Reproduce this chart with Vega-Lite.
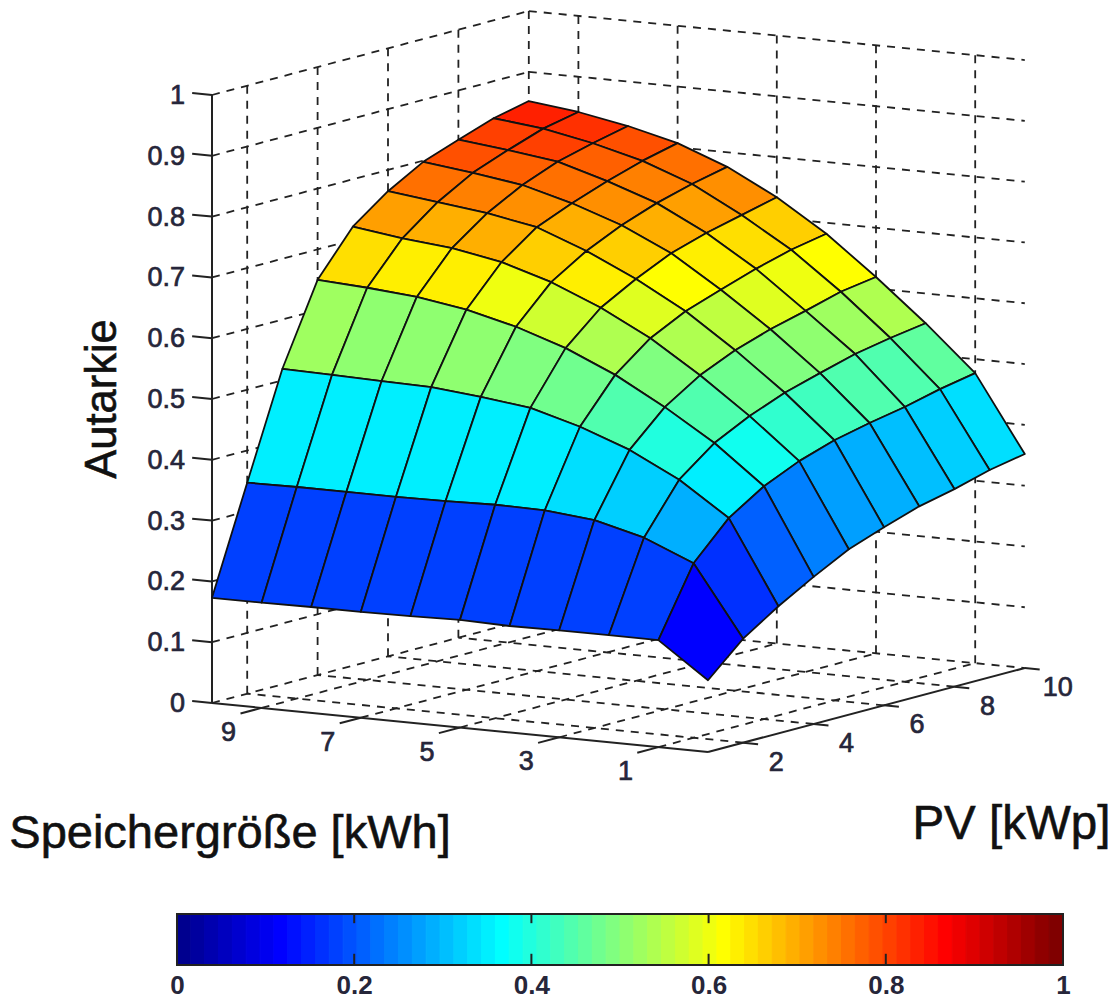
{"$schema":"https://vega.github.io/schema/vega-lite/v6.json","padding":0,"spacing":19,"bounds":"flush","background":"white","config":{"view":{"stroke":null}},
"datasets":{
"cells":[
{"s":9,"p":9,"z":[0.83,0.839,0.852,0.842]},{"s":8,"p":9,"z":[0.814,0.83,0.842,0.827]},{"s":7,"p":9,"z":[0.793,0.814,0.827,0.807]},{"s":6,"p":9,"z":[0.763,0.793,0.807,0.776]},{"s":5,"p":9,"z":[0.720,0.763,0.776,0.734]},{"s":4,"p":9,"z":[0.671,0.720,0.734,0.682]},{"s":3,"p":9,"z":[0.610,0.671,0.682,0.619]},{"s":2,"p":9,"z":[0.542,0.610,0.619,0.551]},{"s":1,"p":9,"z":[0.466,0.542,0.551,0.477]},{"s":0,"p":9,"z":[0.341,0.466,0.477,0.352]},
{"s":9,"p":8,"z":[0.810,0.819,0.839,0.83]},{"s":8,"p":8,"z":[0.799,0.810,0.83,0.814]},{"s":7,"p":8,"z":[0.775,0.799,0.814,0.793]},{"s":6,"p":8,"z":[0.747,0.775,0.793,0.763]},{"s":5,"p":8,"z":[0.706,0.747,0.763,0.720]},{"s":4,"p":8,"z":[0.655,0.706,0.720,0.671]},{"s":3,"p":8,"z":[0.594,0.655,0.671,0.610]},{"s":2,"p":8,"z":[0.531,0.594,0.610,0.542]},{"s":1,"p":8,"z":[0.452,0.531,0.542,0.466]},{"s":0,"p":8,"z":[0.325,0.452,0.466,0.341]},
{"s":9,"p":7,"z":[0.788,0.798,0.819,0.810]},{"s":8,"p":7,"z":[0.776,0.788,0.810,0.799]},{"s":7,"p":7,"z":[0.754,0.776,0.799,0.775]},{"s":6,"p":7,"z":[0.726,0.754,0.775,0.747]},{"s":5,"p":7,"z":[0.688,0.726,0.747,0.706]},{"s":4,"p":7,"z":[0.636,0.688,0.706,0.655]},{"s":3,"p":7,"z":[0.579,0.636,0.655,0.594]},{"s":2,"p":7,"z":[0.515,0.579,0.594,0.531]},{"s":1,"p":7,"z":[0.441,0.515,0.531,0.452]},{"s":0,"p":7,"z":[0.312,0.441,0.452,0.325]},
{"s":9,"p":6,"z":[0.755,0.765,0.798,0.788]},{"s":8,"p":6,"z":[0.745,0.755,0.788,0.776]},{"s":7,"p":6,"z":[0.730,0.745,0.776,0.754]},{"s":6,"p":6,"z":[0.699,0.730,0.754,0.726]},{"s":5,"p":6,"z":[0.661,0.699,0.726,0.688]},{"s":4,"p":6,"z":[0.616,0.661,0.688,0.636]},{"s":3,"p":6,"z":[0.560,0.616,0.636,0.579]},{"s":2,"p":6,"z":[0.498,0.560,0.579,0.515]},{"s":1,"p":6,"z":[0.428,0.498,0.515,0.441]},{"s":0,"p":6,"z":[0.293,0.428,0.441,0.312]},
{"s":9,"p":5,"z":[0.711,0.722,0.765,0.755]},{"s":8,"p":5,"z":[0.703,0.711,0.755,0.745]},{"s":7,"p":5,"z":[0.688,0.703,0.745,0.730]},{"s":6,"p":5,"z":[0.663,0.688,0.730,0.699]},{"s":5,"p":5,"z":[0.629,0.663,0.699,0.661]},{"s":4,"p":5,"z":[0.587,0.629,0.661,0.616]},{"s":3,"p":5,"z":[0.534,0.587,0.616,0.560]},{"s":2,"p":5,"z":[0.475,0.534,0.560,0.498]},{"s":1,"p":5,"z":[0.409,0.475,0.498,0.428]},{"s":0,"p":5,"z":[0.272,0.409,0.428,0.293]},
{"s":9,"p":4,"z":[0.645,0.650,0.722,0.711]},{"s":8,"p":4,"z":[0.638,0.645,0.711,0.703]},{"s":7,"p":4,"z":[0.625,0.638,0.703,0.688]},{"s":6,"p":4,"z":[0.605,0.625,0.688,0.663]},{"s":5,"p":4,"z":[0.578,0.605,0.663,0.629]},{"s":4,"p":4,"z":[0.542,0.578,0.629,0.587]},{"s":3,"p":4,"z":[0.497,0.542,0.587,0.534]},{"s":2,"p":4,"z":[0.446,0.497,0.534,0.475]},{"s":1,"p":4,"z":[0.383,0.446,0.475,0.409]},{"s":0,"p":4,"z":[0.242,0.383,0.409,0.272]},
{"s":9,"p":3,"z":[0.517,0.519,0.650,0.645]},{"s":8,"p":3,"z":[0.515,0.517,0.645,0.638]},{"s":7,"p":3,"z":[0.513,0.515,0.638,0.625]},{"s":6,"p":3,"z":[0.505,0.513,0.625,0.605]},{"s":5,"p":3,"z":[0.495,0.505,0.605,0.578]},{"s":4,"p":3,"z":[0.472,0.495,0.578,0.542]},{"s":3,"p":3,"z":[0.442,0.472,0.542,0.497]},{"s":2,"p":3,"z":[0.401,0.442,0.497,0.446]},{"s":1,"p":3,"z":[0.346,0.401,0.446,0.383]},{"s":0,"p":3,"z":[0.209,0.346,0.383,0.242]},
{"s":9,"p":2,"z":[0.348,0.347,0.519,0.517]},{"s":8,"p":2,"z":[0.348,0.348,0.517,0.515]},{"s":7,"p":2,"z":[0.348,0.348,0.515,0.513]},{"s":6,"p":2,"z":[0.349,0.348,0.513,0.505]},{"s":5,"p":2,"z":[0.351,0.349,0.505,0.495]},{"s":4,"p":2,"z":[0.350,0.351,0.495,0.472]},{"s":3,"p":2,"z":[0.342,0.350,0.472,0.442]},{"s":2,"p":2,"z":[0.321,0.342,0.442,0.401]},{"s":1,"p":2,"z":[0.287,0.321,0.401,0.346]},{"s":0,"p":2,"z":[0.171,0.287,0.346,0.209]},
{"s":9,"p":1,"z":[0.173,0.173,0.347,0.348]},{"s":8,"p":1,"z":[0.174,0.173,0.348,0.348]},{"s":7,"p":1,"z":[0.174,0.174,0.348,0.348]},{"s":6,"p":1,"z":[0.175,0.174,0.348,0.349]},{"s":5,"p":1,"z":[0.177,0.175,0.349,0.351]},{"s":4,"p":1,"z":[0.175,0.177,0.351,0.350]},{"s":3,"p":1,"z":[0.176,0.175,0.350,0.342]},{"s":2,"p":1,"z":[0.176,0.176,0.342,0.321]},{"s":1,"p":1,"z":[0.176,0.176,0.321,0.287]},{"s":0,"p":1,"z":[0.118,0.176,0.287,0.171]}
],
"grid":[
{"s":10,"p":1,"z":0,"s2":10,"p2":10,"z2":0},{"s":10,"p":1,"z":0.1,"s2":10,"p2":10,"z2":0.1},{"s":10,"p":1,"z":0.2,"s2":10,"p2":10,"z2":0.2},{"s":10,"p":1,"z":0.3,"s2":10,"p2":10,"z2":0.3},{"s":10,"p":1,"z":0.4,"s2":10,"p2":10,"z2":0.4},{"s":10,"p":1,"z":0.5,"s2":10,"p2":10,"z2":0.5},{"s":10,"p":1,"z":0.6,"s2":10,"p2":10,"z2":0.6},{"s":10,"p":1,"z":0.7,"s2":10,"p2":10,"z2":0.7},{"s":10,"p":1,"z":0.8,"s2":10,"p2":10,"z2":0.8},{"s":10,"p":1,"z":0.9,"s2":10,"p2":10,"z2":0.9},{"s":10,"p":1,"z":1,"s2":10,"p2":10,"z2":1},
{"s":10,"p":10,"z":0,"s2":0,"p2":10,"z2":0},{"s":10,"p":10,"z":0.1,"s2":0,"p2":10,"z2":0.1},{"s":10,"p":10,"z":0.2,"s2":0,"p2":10,"z2":0.2},{"s":10,"p":10,"z":0.3,"s2":0,"p2":10,"z2":0.3},{"s":10,"p":10,"z":0.4,"s2":0,"p2":10,"z2":0.4},{"s":10,"p":10,"z":0.5,"s2":0,"p2":10,"z2":0.5},{"s":10,"p":10,"z":0.6,"s2":0,"p2":10,"z2":0.6},{"s":10,"p":10,"z":0.7,"s2":0,"p2":10,"z2":0.7},{"s":10,"p":10,"z":0.8,"s2":0,"p2":10,"z2":0.8},{"s":10,"p":10,"z":0.9,"s2":0,"p2":10,"z2":0.9},{"s":10,"p":10,"z":1,"s2":0,"p2":10,"z2":1},
{"s":10,"p":2,"z":0,"s2":10,"p2":2,"z2":1},{"s":10,"p":4,"z":0,"s2":10,"p2":4,"z2":1},{"s":10,"p":6,"z":0,"s2":10,"p2":6,"z2":1},{"s":10,"p":8,"z":0,"s2":10,"p2":8,"z2":1},{"s":10,"p":10,"z":0,"s2":10,"p2":10,"z2":1},
{"s":9,"p":10,"z":0,"s2":9,"p2":10,"z2":1},{"s":7,"p":10,"z":0,"s2":7,"p2":10,"z2":1},{"s":5,"p":10,"z":0,"s2":5,"p2":10,"z2":1},{"s":3,"p":10,"z":0,"s2":3,"p2":10,"z2":1},{"s":1,"p":10,"z":0,"s2":1,"p2":10,"z2":1},
{"s":9,"p":1,"z":0,"s2":9,"p2":10,"z2":0},{"s":7,"p":1,"z":0,"s2":7,"p2":10,"z2":0},{"s":5,"p":1,"z":0,"s2":5,"p2":10,"z2":0},{"s":3,"p":1,"z":0,"s2":3,"p2":10,"z2":0},{"s":1,"p":1,"z":0,"s2":1,"p2":10,"z2":0},
{"s":0,"p":2,"z":0,"s2":10,"p2":2,"z2":0},{"s":0,"p":4,"z":0,"s2":10,"p2":4,"z2":0},{"s":0,"p":6,"z":0,"s2":10,"p2":6,"z2":0},{"s":0,"p":8,"z":0,"s2":10,"p2":8,"z2":0}
],
"frame":[
{"s":10,"p":1,"z":0,"s2":10,"p2":1,"z2":1},{"s":10,"p":1,"z":0,"s2":0,"p2":1,"z2":0},{"s":0,"p":1,"z":0,"s2":0,"p2":10,"z2":0},
{"s":10,"p":1,"z":0,"s2":10.4,"p2":1,"z2":0},{"s":10,"p":1,"z":0.1,"s2":10.4,"p2":1,"z2":0.1},{"s":10,"p":1,"z":0.2,"s2":10.4,"p2":1,"z2":0.2},{"s":10,"p":1,"z":0.3,"s2":10.4,"p2":1,"z2":0.3},{"s":10,"p":1,"z":0.4,"s2":10.4,"p2":1,"z2":0.4},{"s":10,"p":1,"z":0.5,"s2":10.4,"p2":1,"z2":0.5},{"s":10,"p":1,"z":0.6,"s2":10.4,"p2":1,"z2":0.6},{"s":10,"p":1,"z":0.7,"s2":10.4,"p2":1,"z2":0.7},{"s":10,"p":1,"z":0.8,"s2":10.4,"p2":1,"z2":0.8},{"s":10,"p":1,"z":0.9,"s2":10.4,"p2":1,"z2":0.9},{"s":10,"p":1,"z":1,"s2":10.4,"p2":1,"z2":1},
{"s":9,"p":1,"z":0,"s2":9,"p2":0.4,"z2":0},{"s":7,"p":1,"z":0,"s2":7,"p2":0.4,"z2":0},{"s":5,"p":1,"z":0,"s2":5,"p2":0.4,"z2":0},{"s":3,"p":1,"z":0,"s2":3,"p2":0.4,"z2":0},{"s":1,"p":1,"z":0,"s2":1,"p2":0.4,"z2":0},
{"s":0,"p":2,"z":0,"s2":-0.3,"p2":2,"z2":0},{"s":0,"p":4,"z":0,"s2":-0.3,"p2":4,"z2":0},{"s":0,"p":6,"z":0,"s2":-0.3,"p2":6,"z2":0},{"s":0,"p":8,"z":0,"s2":-0.3,"p2":8,"z2":0},{"s":0,"p":10,"z":0,"s2":-0.3,"p2":10,"z2":0}
],
"jetbar":[
{"lo":0,"hi":0.015625},{"lo":0.015625,"hi":0.03125},{"lo":0.03125,"hi":0.046875},{"lo":0.046875,"hi":0.0625},{"lo":0.0625,"hi":0.078125},{"lo":0.078125,"hi":0.09375},{"lo":0.09375,"hi":0.109375},{"lo":0.109375,"hi":0.125},
{"lo":0.125,"hi":0.140625},{"lo":0.140625,"hi":0.15625},{"lo":0.15625,"hi":0.171875},{"lo":0.171875,"hi":0.1875},{"lo":0.1875,"hi":0.203125},{"lo":0.203125,"hi":0.21875},{"lo":0.21875,"hi":0.234375},{"lo":0.234375,"hi":0.25},
{"lo":0.25,"hi":0.265625},{"lo":0.265625,"hi":0.28125},{"lo":0.28125,"hi":0.296875},{"lo":0.296875,"hi":0.3125},{"lo":0.3125,"hi":0.328125},{"lo":0.328125,"hi":0.34375},{"lo":0.34375,"hi":0.359375},{"lo":0.359375,"hi":0.375},
{"lo":0.375,"hi":0.390625},{"lo":0.390625,"hi":0.40625},{"lo":0.40625,"hi":0.421875},{"lo":0.421875,"hi":0.4375},{"lo":0.4375,"hi":0.453125},{"lo":0.453125,"hi":0.46875},{"lo":0.46875,"hi":0.484375},{"lo":0.484375,"hi":0.5},
{"lo":0.5,"hi":0.515625},{"lo":0.515625,"hi":0.53125},{"lo":0.53125,"hi":0.546875},{"lo":0.546875,"hi":0.5625},{"lo":0.5625,"hi":0.578125},{"lo":0.578125,"hi":0.59375},{"lo":0.59375,"hi":0.609375},{"lo":0.609375,"hi":0.625},
{"lo":0.625,"hi":0.640625},{"lo":0.640625,"hi":0.65625},{"lo":0.65625,"hi":0.671875},{"lo":0.671875,"hi":0.6875},{"lo":0.6875,"hi":0.703125},{"lo":0.703125,"hi":0.71875},{"lo":0.71875,"hi":0.734375},{"lo":0.734375,"hi":0.75},
{"lo":0.75,"hi":0.765625},{"lo":0.765625,"hi":0.78125},{"lo":0.78125,"hi":0.796875},{"lo":0.796875,"hi":0.8125},{"lo":0.8125,"hi":0.828125},{"lo":0.828125,"hi":0.84375},{"lo":0.84375,"hi":0.859375},{"lo":0.859375,"hi":0.875},
{"lo":0.875,"hi":0.890625},{"lo":0.890625,"hi":0.90625},{"lo":0.90625,"hi":0.921875},{"lo":0.921875,"hi":0.9375},{"lo":0.9375,"hi":0.953125},{"lo":0.953125,"hi":0.96875},{"lo":0.96875,"hi":0.984375},{"lo":0.984375,"hi":1}
]
},
"vconcat":[
{"width":1113,"height":895,
"layer":[
{"data":{"name":"grid"},
"transform":[{"calculate":"708-49.6*datum.s+35.2*(datum.p-1)","as":"X"},{"calculate":"752-4.9*datum.s-9.33*(datum.p-1)-608*datum.z","as":"Y"},{"calculate":"708-49.6*datum.s2+35.2*(datum.p2-1)","as":"X2"},{"calculate":"752-4.9*datum.s2-9.33*(datum.p2-1)-608*datum.z2","as":"Y2"}],
"mark":{"type":"rule","stroke":"#222222","strokeWidth":1.8,"strokeDash":[8,7]},
"encoding":{"x":{"field":"X","type":"quantitative","scale":{"domain":[0,1113],"nice":false,"zero":false},"axis":null},"y":{"field":"Y","type":"quantitative","scale":{"domain":[895,0],"nice":false,"zero":false},"axis":null},"x2":{"field":"X2"},"y2":{"field":"Y2"}}},
{"data":{"name":"frame"},
"transform":[{"calculate":"708-49.6*datum.s+35.2*(datum.p-1)","as":"X"},{"calculate":"752-4.9*datum.s-9.33*(datum.p-1)-608*datum.z","as":"Y"},{"calculate":"708-49.6*datum.s2+35.2*(datum.p2-1)","as":"X2"},{"calculate":"752-4.9*datum.s2-9.33*(datum.p2-1)-608*datum.z2","as":"Y2"}],
"mark":{"type":"rule","stroke":"#222222","strokeWidth":2},
"encoding":{"x":{"field":"X","type":"quantitative","scale":{"domain":[0,1113],"nice":false,"zero":false},"axis":null},"y":{"field":"Y","type":"quantitative","scale":{"domain":[895,0],"nice":false,"zero":false},"axis":null},"x2":{"field":"X2"},"y2":{"field":"Y2"}}},
{"data":{"name":"cells"},
"transform":[{"calculate":"datum.z[0]","as":"c"},{"calculate":"datum.s+'_'+datum.p","as":"cell"},{"calculate":"[0,1,1,0]","as":"ds"},{"calculate":"[0,0,1,1]","as":"dp"},{"calculate":"[0,1,2,3]","as":"k"},{"flatten":["z","ds","dp","k"]},{"calculate":"708-49.6*(datum.s+datum.ds)+35.2*(datum.p+datum.dp-1)","as":"X"},{"calculate":"752-4.9*(datum.s+datum.ds)-9.33*(datum.p+datum.dp-1)-608*datum.z","as":"Y"}],
"mark":{"type":"line","interpolate":"linear-closed","stroke":"#111111","strokeWidth":1.8,"strokeJoin":"round"},
"encoding":{"x":{"field":"X","type":"quantitative","scale":{"domain":[0,1113],"nice":false,"zero":false},"axis":null},"y":{"field":"Y","type":"quantitative","scale":{"domain":[895,0],"nice":false,"zero":false},"axis":null},"detail":{"field":"cell"},"order":{"field":"k"},
"fill":{"field":"c","type":"quantitative","legend":null,"scale":{"type":"quantize","domain":[0,1],"range":["#00008f","#00009f","#0000af","#0000bf","#0000cf","#0000df","#0000ef","#0000ff","#0010ff","#0020ff","#0030ff","#0040ff","#0050ff","#0060ff","#0070ff","#0080ff","#008fff","#009fff","#00afff","#00bfff","#00cfff","#00dfff","#00efff","#00ffff","#10ffef","#20ffdf","#30ffcf","#40ffbf","#50ffaf","#60ff9f","#70ff8f","#80ff80","#8fff70","#9fff60","#afff50","#bfff40","#cfff30","#dfff20","#efff10","#ffff00","#ffef00","#ffdf00","#ffcf00","#ffbf00","#ffaf00","#ff9f00","#ff8f00","#ff8000","#ff7000","#ff6000","#ff5000","#ff4000","#ff3000","#ff2000","#ff1000","#ff0000","#ef0000","#df0000","#cf0000","#bf0000","#af0000","#9f0000","#8f0000","#800000"]}}}},
{"data":{"values":[{"t":"0","z":0},{"t":"0.1","z":0.1},{"t":"0.2","z":0.2},{"t":"0.3","z":0.3},{"t":"0.4","z":0.4},{"t":"0.5","z":0.5},{"t":"0.6","z":0.6},{"t":"0.7","z":0.7},{"t":"0.8","z":0.8},{"t":"0.9","z":0.9},{"t":"1","z":1}]},
"transform":[{"calculate":"212","as":"X"},{"calculate":"703-608*datum.z","as":"Y"}],
"mark":{"type":"text","align":"right","baseline":"middle","dx":-27,"dy":1,"font":"Liberation Sans","fontSize":27,"fill":"#26263a","stroke":"#26263a","strokeWidth":0.7},
"encoding":{"x":{"field":"X","type":"quantitative","scale":{"domain":[0,1113],"nice":false,"zero":false},"axis":null},"y":{"field":"Y","type":"quantitative","scale":{"domain":[895,0],"nice":false,"zero":false},"axis":null},"text":{"field":"t"}}},
{"data":{"values":[{"t":"9","s":9},{"t":"7","s":7},{"t":"5","s":5},{"t":"3","s":3},{"t":"1","s":1}]},
"transform":[{"calculate":"708-49.6*datum.s","as":"X"},{"calculate":"752-4.9*datum.s","as":"Y"}],
"mark":{"type":"text","align":"center","baseline":"middle","dx":-33,"dy":25,"font":"Liberation Sans","fontSize":27,"fill":"#26263a","stroke":"#26263a","strokeWidth":0.7},
"encoding":{"x":{"field":"X","type":"quantitative","scale":{"domain":[0,1113],"nice":false,"zero":false},"axis":null},"y":{"field":"Y","type":"quantitative","scale":{"domain":[895,0],"nice":false,"zero":false},"axis":null},"text":{"field":"t"}}},
{"data":{"values":[{"t":"2","p":2},{"t":"4","p":4},{"t":"6","p":6},{"t":"8","p":8},{"t":"10","p":10}]},
"transform":[{"calculate":"708+35.2*(datum.p-1)","as":"X"},{"calculate":"752-9.33*(datum.p-1)","as":"Y"}],
"mark":{"type":"text","align":"center","baseline":"middle","dx":33,"dy":20,"font":"Liberation Sans","fontSize":27,"fill":"#26263a","stroke":"#26263a","strokeWidth":0.7},
"encoding":{"x":{"field":"X","type":"quantitative","scale":{"domain":[0,1113],"nice":false,"zero":false},"axis":null},"y":{"field":"Y","type":"quantitative","scale":{"domain":[895,0],"nice":false,"zero":false},"axis":null},"text":{"field":"t"}}},
{"data":{"values":[{"t":"Speichergröße [kWh]","s":5}]},
"transform":[{"calculate":"708-49.6*datum.s","as":"X"},{"calculate":"752-4.9*datum.s","as":"Y"}],
"mark":{"type":"text","align":"center","baseline":"middle","dx":-230,"dy":106,"font":"Liberation Sans","fontSize":47,"fill":"#111111","stroke":"#111111","strokeWidth":0.6},
"encoding":{"x":{"field":"X","type":"quantitative","scale":{"domain":[0,1113],"nice":false,"zero":false},"axis":null},"y":{"field":"Y","type":"quantitative","scale":{"domain":[895,0],"nice":false,"zero":false},"axis":null},"text":{"field":"t"}}},
{"data":{"values":[{"t":"PV [kWp]","p":5.5}]},
"transform":[{"calculate":"708+35.2*(datum.p-1)","as":"X"},{"calculate":"752-9.33*(datum.p-1)","as":"Y"}],
"mark":{"type":"text","align":"center","baseline":"middle","dx":145,"dy":115,"font":"Liberation Sans","fontSize":47.5,"fill":"#111111","stroke":"#111111","strokeWidth":0.6},
"encoding":{"x":{"field":"X","type":"quantitative","scale":{"domain":[0,1113],"nice":false,"zero":false},"axis":null},"y":{"field":"Y","type":"quantitative","scale":{"domain":[895,0],"nice":false,"zero":false},"axis":null},"text":{"field":"t"}}},
{"data":{"values":[{"t":"Autarkie","z":0.5}]},
"transform":[{"calculate":"212","as":"X"},{"calculate":"703-608*datum.z","as":"Y"}],
"mark":{"type":"text","align":"center","baseline":"middle","angle":270,"dy":-109,"font":"Liberation Sans","fontSize":43.5,"fill":"#111111","stroke":"#111111","strokeWidth":0.6},
"encoding":{"x":{"field":"X","type":"quantitative","scale":{"domain":[0,1113],"nice":false,"zero":false},"axis":null},"y":{"field":"Y","type":"quantitative","scale":{"domain":[895,0],"nice":false,"zero":false},"axis":null},"text":{"field":"t"}}}
]},
{"width":1113,"height":51,
"layer":[
{"data":{"name":"jetbar"},
"mark":{"type":"rect","strokeWidth":1},
"encoding":{"x":{"field":"lo","type":"quantitative","scale":{"domain":[-0.19977,1.05643],"nice":false,"zero":false},"axis":{"values":[0,0.2,0.4,0.6,0.8,1],"format":".1~f","title":null,"domain":false,"ticks":false,"grid":false,"labelFont":"Liberation Sans","labelFontWeight":"bold","labelFontSize":26,"labelColor":"#26263a","labelPadding":7}},"x2":{"field":"hi"},
"stroke":{"field":"lo","type":"quantitative","legend":null,"scale":{"type":"quantize","domain":[0,1],"range":["#00008f","#00009f","#0000af","#0000bf","#0000cf","#0000df","#0000ef","#0000ff","#0010ff","#0020ff","#0030ff","#0040ff","#0050ff","#0060ff","#0070ff","#0080ff","#008fff","#009fff","#00afff","#00bfff","#00cfff","#00dfff","#00efff","#00ffff","#10ffef","#20ffdf","#30ffcf","#40ffbf","#50ffaf","#60ff9f","#70ff8f","#80ff80","#8fff70","#9fff60","#afff50","#bfff40","#cfff30","#dfff20","#efff10","#ffff00","#ffef00","#ffdf00","#ffcf00","#ffbf00","#ffaf00","#ff9f00","#ff8f00","#ff8000","#ff7000","#ff6000","#ff5000","#ff4000","#ff3000","#ff2000","#ff1000","#ff0000","#ef0000","#df0000","#cf0000","#bf0000","#af0000","#9f0000","#8f0000","#800000"]}},
"fill":{"field":"lo","type":"quantitative","legend":null,"scale":{"type":"quantize","domain":[0,1],"range":["#00008f","#00009f","#0000af","#0000bf","#0000cf","#0000df","#0000ef","#0000ff","#0010ff","#0020ff","#0030ff","#0040ff","#0050ff","#0060ff","#0070ff","#0080ff","#008fff","#009fff","#00afff","#00bfff","#00cfff","#00dfff","#00efff","#00ffff","#10ffef","#20ffdf","#30ffcf","#40ffbf","#50ffaf","#60ff9f","#70ff8f","#80ff80","#8fff70","#9fff60","#afff50","#bfff40","#cfff30","#dfff20","#efff10","#ffff00","#ffef00","#ffdf00","#ffcf00","#ffbf00","#ffaf00","#ff9f00","#ff8f00","#ff8000","#ff7000","#ff6000","#ff5000","#ff4000","#ff3000","#ff2000","#ff1000","#ff0000","#ef0000","#df0000","#cf0000","#bf0000","#af0000","#9f0000","#8f0000","#800000"]}}}},
{"data":{"values":[{"lo":0,"hi":1,"a":0,"b":1}]},
"mark":{"type":"rect","fill":null,"stroke":"#222222","strokeWidth":2},
"encoding":{"x":{"field":"lo","type":"quantitative"},"x2":{"field":"hi"},"y":{"field":"a","type":"quantitative","scale":{"domain":[0,1],"nice":false},"axis":null},"y2":{"field":"b"}}},
{"data":{"values":[{"v":0.2,"a":0,"b":0.22},{"v":0.4,"a":0,"b":0.22},{"v":0.6,"a":0,"b":0.22},{"v":0.8,"a":0,"b":0.22},{"v":0.2,"a":0.82,"b":1},{"v":0.4,"a":0.82,"b":1},{"v":0.6,"a":0.82,"b":1},{"v":0.8,"a":0.82,"b":1}]},
"mark":{"type":"rule","stroke":"#222222","strokeWidth":2},
"encoding":{"x":{"field":"v","type":"quantitative"},"y":{"field":"a","type":"quantitative","scale":{"domain":[0,1],"nice":false},"axis":null},"y2":{"field":"b"}}}
]}
]}
